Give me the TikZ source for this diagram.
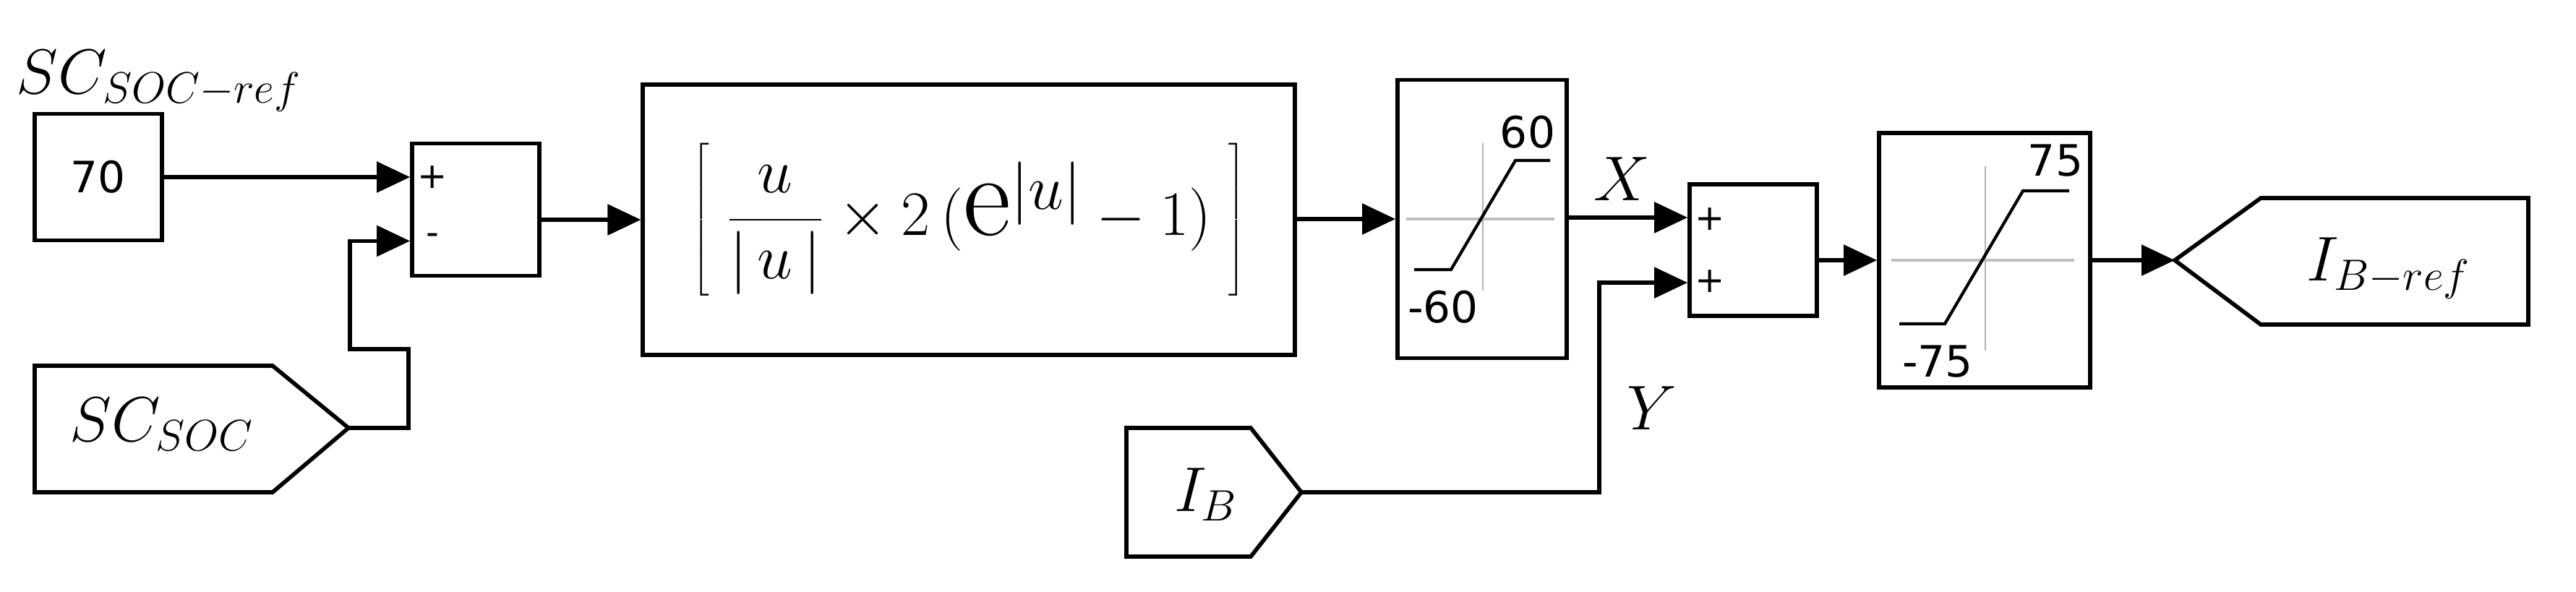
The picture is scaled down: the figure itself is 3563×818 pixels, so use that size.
\documentclass[tikz,border=0pt]{standalone}
\usepackage{fontspec}
\newfontfamily\labfont{DejaVu Sans}
\usetikzlibrary{positioning, arrows.meta, calc}

\begin{document}
\begin{tikzpicture}[x=0.01cm, y=-0.01cm,
		blk/.style={rectangle, draw, line width=1.6pt},
		sig/.style={-{Triangle[length=0.46cm, width=0.42cm]}, line width=1.6pt},
		wire/.style={line width=1.6pt},
		num/.style={font=\labfont\fontsize{17}{20}\selectfont, inner sep=0pt},
		sgn/.style={font=\labfont\fontsize{14}{16}\selectfont, inner sep=0pt},
		lbl/.style={font=\fontsize{24}{28}\selectfont, inner sep=0pt}]
		\useasboundingbox (0,0) rectangle (3563,818);
		% blocks
		\node[blk, minimum width=1.76cm, minimum height=1.75cm] (const) at (136,245) {};
		\node[num] at (const) {70};
		\node[lbl] (refl) at (220,112) {$SC_{SOC-ref}$};
		\node[blk, minimum width=1.76cm, minimum height=1.83cm] (sum1) at (658,290) {};
		\node[blk, minimum width=9.01cm, minimum height=3.74cm] (fcn) at (1340,304) {};
		\node[font=\fontsize{46}{52}\selectfont, inner sep=0pt] at (fcn) {$\displaystyle\left[\;\frac{u}{|\,u\,|}\times 2\,(\mathrm{e}^{|u|}-1)\;\right]$};
		\node[blk, minimum width=2.34cm, minimum height=3.85cm] (sat1) at (2050,303) {};
		\node[blk, minimum width=1.76cm, minimum height=1.82cm] (sum2) at (2425,346) {};
		\node[blk, minimum width=2.92cm, minimum height=3.52cm] (sat2) at (2745,360) {};
		% sum signs
		\node[sgn] at (598,245) {+};
		\node[sgn] at (598,331) {-};
		\node[sgn] at (2365,303) {+};
		\node[sgn] at (2365,389) {+};
		% saturation curves
		\draw[gray!50, line width=1.2pt] (1945,303) -- (2150,303);
		\draw[gray!60, line width=0.6pt] (2051,198) -- (2051,402);
		\draw[line width=1.2pt] (1956,373) -- (2007,373) -- (2096,222) -- (2144,222);
		\node[num] at (2113,183) {60};
		\node[num] at (1996,425) {-60};
		\draw[gray!50, line width=1.2pt] (2616,360) -- (2869,360);
		\draw[gray!60, line width=0.6pt] (2746,230) -- (2746,485);
		\draw[line width=1.2pt] (2627,448) -- (2690,448) -- (2798,264) -- (2862,264);
		\node[num] at (2843,222) {75};
		\node[num] at (2680,500) {-75};
		% ports
		\draw[wire] (48,506) -- (377,506) -- (482,592) -- (377,681) -- (48,681) -- cycle;
		\coordinate (soc) at (482,592);
		\node[lbl] at (224,587) {$SC_{SOC}$};
		\draw[wire] (1558,592) -- (1730,592) -- (1800,681) -- (1730,770) -- (1558,770) -- cycle;
		\coordinate (ib) at (1800,681);
		\node[lbl] at (1668,684) {$I_B$};
		\draw[wire] (3008,360) -- (3127,274) -- (3497,274) -- (3497,449) -- (3127,449) -- cycle;
		\coordinate (ibref) at (3008,360);
		\node[lbl] at (3304,371) {$I_{B-ref}$};
		% connections
		\draw[sig] (const.east) -- (sum1.west |- const);
		\coordinate (m1) at ($(sum1.north west)!0.73!(sum1.south west)$);
		\draw[sig] (soc) -- (565,592) -- (565,483) -- (484,483) -- ({484},0 |- m1) -- (m1);
		\draw[sig] (sum1.east |- fcn) -- (fcn.west);
		\draw[sig] (fcn.east |- sat1) -- (sat1.west);
		\coordinate (p1) at ($(sum2.north west)!0.26!(sum2.south west)$);
		\coordinate (p2) at ($(sum2.north west)!0.74!(sum2.south west)$);
		\draw[sig] (sat1.east |- p1) -- node[lbl, above=6pt, pos=0.45] {$X$} (p1);
		\draw[sig] (ib) -- (2212,681) -- node[lbl, right=10pt, pos=0.4] {$Y$} ({2212},0 |- p2) -- (p2);
		\draw[sig] (sum2.east |- sat2) -- (sat2.west);
		\draw[sig] (sat2.east) -- (ibref);
\end{tikzpicture}
\end{document}
